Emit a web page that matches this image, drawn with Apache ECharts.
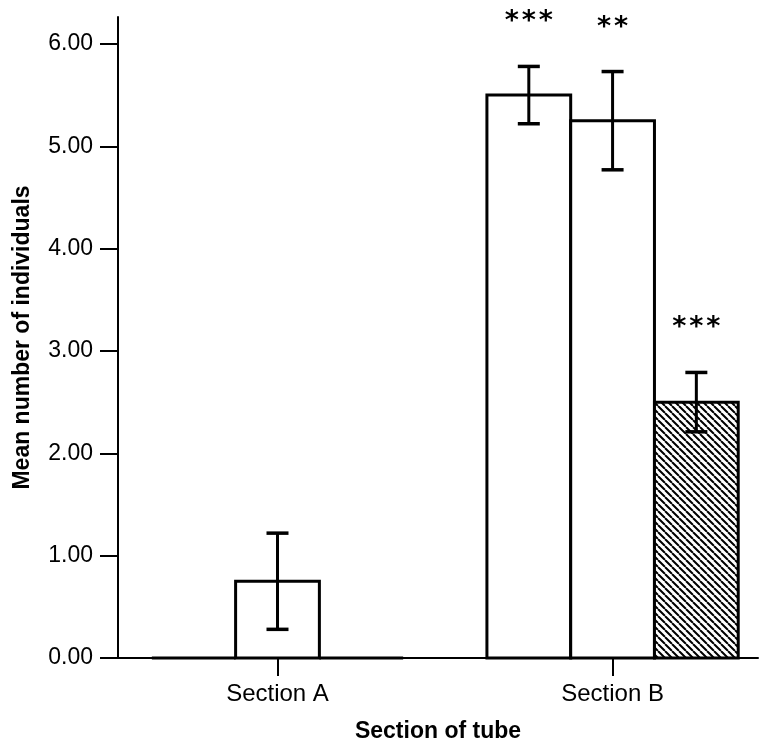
<!DOCTYPE html>
<html>
<head>
<meta charset="utf-8">
<script src="https://cdn.jsdelivr.net/npm/echarts@6/dist/echarts.min.js"></script>
<style>
  html, body { margin: 0; padding: 0; background: #fff; }
  #chart { width: 760px; height: 749px; }
</style>
</head>
<body>
<div id="chart"></div>
<script>
// Groups along the horizontal axis
const categories = ['Section A', 'Section B'];

// Mean values for the three bars in each group
const meanFirst = [0, 5.5];
const meanSecond = [0.75, 5.25];
const meanThird = [0, 2.5];

// Error bar limits (null where no error bar is drawn)
const lowFirst = [null, 5.22];
const highFirst = [null, 5.78];
const lowSecond = [0.28, 4.77];
const highSecond = [1.22, 5.73];
const lowThird = [null, 2.21];
const highThird = [null, 2.79];

// Significance markers above the bars
const starsFirst = ['', '***'];
const starsSecond = ['', '**'];
const starsThird = ['', '***'];

// Value-axis tick labels
const yTicks = [0, 1, 2, 3, 4, 5, 6];

const BAR_W = 0.25; // bar width in axis units (one group spans four bar widths)

// Diagonal hatch used for the third bar
function hatchPattern() {
  const s = 7;
  const c = document.createElement('canvas');
  c.width = s; c.height = s;
  const g = c.getContext('2d');
  g.fillStyle = '#fff';
  g.fillRect(0, 0, s, s);
  g.strokeStyle = '#000';
  g.lineWidth = 2;
  g.beginPath();
  [-s, 0, s].forEach(function (x0) {
    g.moveTo(x0, 0);
    g.lineTo(x0 + s, s);
  });
  g.stroke();
  return c;
}

function makeSeries(means, lows, highs, stars, slot, fill) {
  const data = categories.map(function (_, i) {
    return [i, means[i], lows[i] == null ? '-' : lows[i], highs[i] == null ? '-' : highs[i]];
  });
  return {
    type: 'custom',
    data: data,
    encode: { x: 0, y: [1, 2, 3] },
    clip: false,
    renderItem: function (params, api) {
      const cat = api.value(0);
      const mean = api.value(1);
      const lo = api.value(2);
      const hi = api.value(3);
      const xc = cat + slot * BAR_W;
      const tl = api.coord([xc - BAR_W / 2, mean]);
      const br = api.coord([xc + BAR_W / 2, 0]);
      const children = [{
        type: 'rect',
        shape: { x: tl[0], y: tl[1], width: br[0] - tl[0], height: br[1] - tl[1] },
        style: { fill: fill, stroke: '#000', lineWidth: 3 }
      }];
      let topY = tl[1];
      if (!isNaN(lo) && !isNaN(hi)) {
        const pLo = api.coord([xc, lo]);
        const pHi = api.coord([xc, hi]);
        const cap = 11;
        children.push({
          type: 'polyline',
          shape: { points: [[pLo[0], pLo[1]], [pHi[0], pHi[1]]] },
          style: { stroke: '#000', lineWidth: 3, fill: null }
        });
        children.push({
          type: 'line',
          shape: { x1: pLo[0] - cap, y1: pLo[1], x2: pLo[0] + cap, y2: pLo[1] },
          style: { stroke: '#000', lineWidth: 3.5 }
        });
        children.push({
          type: 'line',
          shape: { x1: pHi[0] - cap, y1: pHi[1], x2: pHi[0] + cap, y2: pHi[1] },
          style: { stroke: '#000', lineWidth: 3.5 }
        });
        topY = pHi[1];
      }
      const mark = stars[params.dataIndex];
      if (mark) {
        const step = 17;
        const n = mark.length;
        for (let k = 0; k < n; k++) {
          children.push({
            type: 'text',
            x: tl[0] + (br[0] - tl[0]) / 2 + (k - (n - 1) / 2) * step,
            y: topY - 44,
            style: {
              text: '*',
              fill: '#000',
              font: 'bold 27px "DejaVu Sans"',
              align: 'center',
              verticalAlign: 'middle'
            }
          });
        }
      }
      return { type: 'group', children: children };
    }
  };
}

const chart = echarts.init(document.getElementById('chart'), null, { renderer: 'canvas' });

chart.setOption({
  animation: false,
  backgroundColor: '#fff',
  grid: { left: 118, right: 2, top: 17, bottom: 91 },
  xAxis: {
    type: 'value',
    min: -0.476,
    max: 1.434,
    splitLine: { show: false },
    axisLine: { show: true, onZero: false, lineStyle: { color: '#000', width: 2 } },
    axisTick: { show: true, customValues: [0, 1], length: 18, lineStyle: { color: '#000', width: 2 } },
    axisLabel: {
      customValues: [0, 1],
      formatter: function (v) { return categories[Math.round(v)]; },
      color: '#000', fontSize: 24, fontFamily: 'Liberation Sans', margin: 24
    },
    name: 'Section of tube',
    nameLocation: 'middle',
    nameGap: 62,
    nameTextStyle: { color: '#000', fontSize: 23, fontWeight: 'bold', fontFamily: 'Liberation Sans' }
  },
  yAxis: {
    type: 'value',
    min: 0,
    max: 6.263,
    interval: 1,
    splitLine: { show: false },
    axisLine: { show: true, onZero: false, lineStyle: { color: '#000', width: 2 } },
    axisTick: { show: true, customValues: yTicks, length: 18, lineStyle: { color: '#000', width: 2 } },
    axisLabel: {
      customValues: yTicks,
      formatter: function (v) { return v.toFixed(2); },
      color: '#000', fontSize: 23, fontFamily: 'Liberation Sans', margin: 25
    },
    name: 'Mean number of individuals',
    nameLocation: 'middle',
    nameGap: 84,
    nameTextStyle: { color: '#000', fontSize: 23, fontWeight: 'bold', fontFamily: 'Liberation Sans' }
  },
  series: [
    makeSeries(meanFirst, lowFirst, highFirst, starsFirst, -1, '#fff'),
    makeSeries(meanSecond, lowSecond, highSecond, starsSecond, 0, '#fff'),
    makeSeries(meanThird, lowThird, highThird, starsThird, 1, { image: hatchPattern(), repeat: 'repeat' })
  ]
});
</script>
</body>
</html>
